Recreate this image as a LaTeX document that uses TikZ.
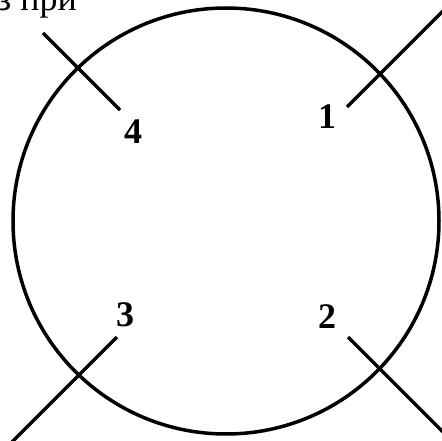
\documentclass[tikz,border=0pt]{standalone}
\usepackage{fontspec}
\setmainfont{Liberation Serif}
\begin{document}
\begin{tikzpicture}[x=1pt,y=-1pt,
  ring/.style={line width=3.5pt},
  wire/.style={line width=3.5pt},
  num/.style={font=\fontsize{36}{38}\selectfont\bfseries, inner sep=0pt},
  caption/.style={font=\fontsize{36}{40}\selectfont, inner sep=0pt}]
\useasboundingbox (0,0) rectangle (442,441);
\clip (0,0) rectangle (442,441);
\node[ring, draw, circle, minimum size=426pt, inner sep=0pt] (c) at (226,221) {};
\coordinate (a4) at (43,33);   \coordinate (b4) at (120,110);
\coordinate (a1) at (347,107); \coordinate (b1) at (452,2);
\coordinate (a3) at (117,337); \coordinate (b3) at (4,450);
\coordinate (a2) at (348,337); \coordinate (b2) at (452,441);
\draw[wire] (a4) -- (b4);
\draw[wire] (a1) -- (b1);
\draw[wire] (a3) -- (b3);
\draw[wire] (a2) -- (b2);
\node[num] (n1) at (327,117) {1};
\node[num] (n2) at (327,317) {2};
\node[num] (n3) at (125,315) {3};
\node[num] (n4) at (133,132) {4};
\node[caption, anchor=base east] (t1) at (77,11) {з при};
\node[caption, anchor=base east] (t2) at (1.5,52) {)};
\end{tikzpicture}
\end{document}
